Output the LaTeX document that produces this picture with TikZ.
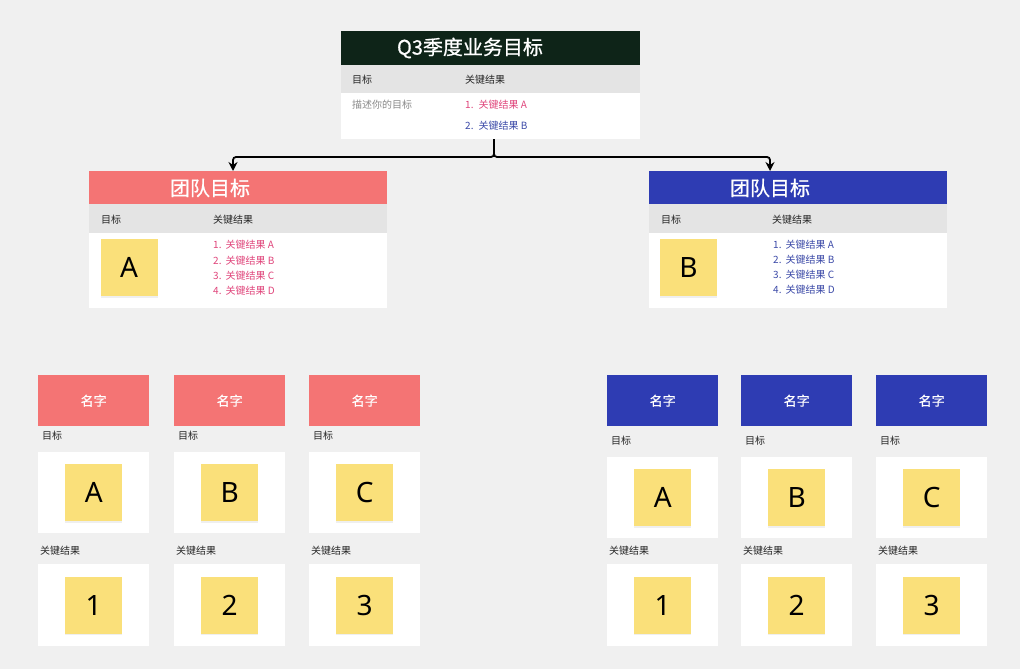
\documentclass[tikz,border=0pt]{standalone}
\usepackage{fontspec}
\setmainfont{Noto Sans CJK SC}
\newfontfamily\latinf{Noto Sans}
\newfontfamily\medf[FakeBold=0.6]{Noto Sans CJK SC}
\usetikzlibrary{arrows.meta,shadows}
\definecolor{bg}{HTML}{F0F0F0}
\definecolor{darkhd}{HTML}{0E2418}
\definecolor{redhd}{HTML}{F47474}
\definecolor{bluehd}{HTML}{2E3CB3}
\definecolor{grayrow}{HTML}{E4E4E4}
\definecolor{stickyy}{HTML}{FAE07A}
\definecolor{pinktx}{HTML}{E0457B}
\definecolor{bluetx}{HTML}{3C4AA8}
\definecolor{graytx}{HTML}{8A8A8A}
\newcommand{\fs}[1]{\fontsize{#1}{#1}\selectfont}
\tikzset{
  rbox/.style={anchor=north west, inner sep=0, draw=none},
  whitebox/.style={rbox, fill=white, minimum width=111},
  namebox/.style={rbox, minimum width=111, minimum height=51, text=white, font=\medf\fs{13}},
  lbl/.style={anchor=west, inner sep=0, font=\fs{10}, text=black!85},
  sticky/.style={fill=stickyy, minimum width=57, minimum height=57, inner sep=0, font=\latinf\fs{28},
     drop shadow={opacity=0.12, shadow xshift=0pt, shadow yshift=-1.5pt}},
  title/.style={inner sep=0, text=white},
  conn/.style={line width=1.8pt, black, rounded corners=3},
  tip/.style={-{Stealth[length=9pt,width=9pt]}}
}
\newcommand{\membercol}[7]{%
  \node[namebox, fill=#3] (#1n) at (#2,375) {名字};
  \node[lbl] (#1gl) at (#2+4,#6) {目标};
  \node[whitebox, minimum height=81] (#1gw) at (#2,#7) {};
  \node[sticky] (#1gs) at (#1gw.center) {#4};
  \node[lbl] (#1kl) at (#2+2,551) {关键结果};
  \node[whitebox, minimum height=82] (#1kw) at (#2,564) {};
  \node[sticky] (#1ks) at (#1kw.center) {#5};
}
\begin{document}
\begin{tikzpicture}[x=1pt,y=-1pt]
\fill[bg] (0,0) rectangle (1020,669);
\useasboundingbox (0,0) rectangle (1020,669);

% top box
\node[rbox, fill=darkhd, minimum width=299, minimum height=34] (topH) at (341,31) {};
\node[rbox, fill=grayrow, minimum width=299, minimum height=28] (topG) at (341,65) {};
\node[rbox, fill=white, minimum width=299, minimum height=46] (topW) at (341,93) {};
\node[title, font=\medf\fs{20}] (topT) at (470,48) {Q3季度业务目标};
\node[lbl] (topL1) at (352,80) {目标};
\node[lbl] (topL2) at (465,80) {关键结果};
\node[lbl, text=graytx] (topD) at (352,105) {描述你的目标};
\node[lbl, text=pinktx] (topK1) at (465,105) {1.\hspace{5pt}关键结果 A};
\node[lbl, text=bluetx] (topK2) at (465,126) {2.\hspace{5pt}关键结果 B};

% team A
\node[rbox, fill=redhd, minimum width=298, minimum height=33] (aH) at (89,171) {};
\node[rbox, fill=grayrow, minimum width=298, minimum height=29] (aG) at (89,204) {};
\node[rbox, fill=white, minimum width=298, minimum height=75] (aW) at (89,233) {};
\node[title, font=\medf\fs{20}] (aT) at (210,188) {团队目标};
\node[lbl] (aL1) at (101,220) {目标};
\node[lbl] (aL2) at (213,220) {关键结果};
\node[sticky] (aS) at (129,267.5) {A};
\node[lbl, text=pinktx] (aK1) at (213,245) {1.\hspace{4pt}关键结果 A};
\node[lbl, text=pinktx] (aK2) at (213,261) {2.\hspace{4pt}关键结果 B};
\node[lbl, text=pinktx] (aK3) at (213,276) {3.\hspace{4pt}关键结果 C};
\node[lbl, text=pinktx] (aK4) at (213,291) {4.\hspace{4pt}关键结果 D};

% team B
\node[rbox, fill=bluehd, minimum width=298, minimum height=33] (bH) at (649,171) {};
\node[rbox, fill=grayrow, minimum width=298, minimum height=29] (bG) at (649,204) {};
\node[rbox, fill=white, minimum width=298, minimum height=75] (bW) at (649,233) {};
\node[title, font=\medf\fs{20}] (bT) at (770,188) {团队目标};
\node[lbl] (bL1) at (661,220) {目标};
\node[lbl] (bL2) at (772,220) {关键结果};
\node[sticky] (bS) at (688.5,267.5) {B};
\node[lbl, text=bluetx] (bK1) at (773,245) {1.\hspace{4pt}关键结果 A};
\node[lbl, text=bluetx] (bK2) at (773,260) {2.\hspace{4pt}关键结果 B};
\node[lbl, text=bluetx] (bK3) at (773,275) {3.\hspace{4pt}关键结果 C};
\node[lbl, text=bluetx] (bK4) at (773,290) {4.\hspace{4pt}关键结果 D};

% connectors
\coordinate (tb) at (494,139);
\coordinate (ja) at (233,157);
\coordinate (jb) at (770,157);
\coordinate (ea) at (233,171);
\coordinate (eb) at (770,171);
\draw[conn, tip] (tb) |- (ja) -- (ea);
\draw[conn, tip] (tb) |- (jb) -- (eb);

% member columns
\membercol{l1}{38}{redhd}{A}{1}{436}{452}
\membercol{l2}{174}{redhd}{B}{2}{436}{452}
\membercol{l3}{309}{redhd}{C}{3}{436}{452}
\membercol{r1}{607}{bluehd}{A}{1}{441}{457}
\membercol{r2}{741}{bluehd}{B}{2}{441}{457}
\membercol{r3}{876}{bluehd}{C}{3}{441}{457}
\end{tikzpicture}
\end{document}
